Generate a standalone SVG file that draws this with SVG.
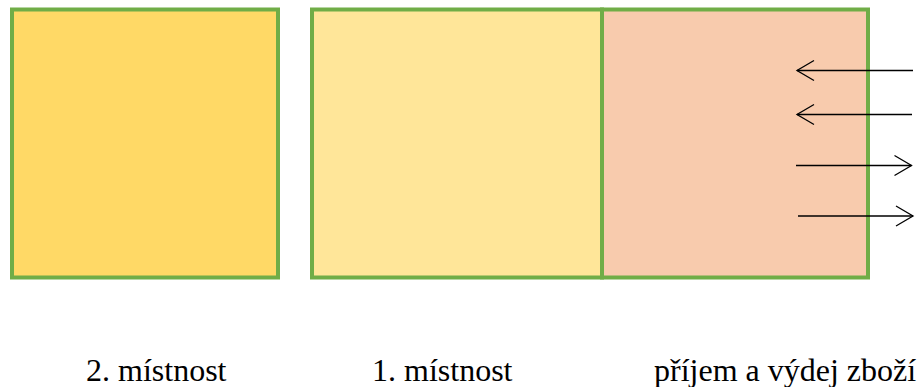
<svg xmlns="http://www.w3.org/2000/svg" width="918" height="387" viewBox="0 0 918 387">
<style>
.room{stroke:#70AD47;stroke-width:4}
.arr{stroke:#000;stroke-width:1.3;fill:none}
</style>
<defs>
<marker id="ah" markerUnits="userSpaceOnUse" markerWidth="24" markerHeight="24" viewBox="-20 -12 24 24" refX="0" refY="0" orient="auto" overflow="visible">
<path d="M-17,-10 L0,0 L-17,10" fill="none" stroke="#000" stroke-width="1.3"/>
</marker>
</defs>
<rect width="918" height="387" fill="#fff"/>
<g font-family="'Liberation Serif', Tinos, 'Times New Roman', 'DejaVu Serif', serif" font-size="32" fill="#000">
<g id="room2">
<rect class="room" x="12" y="9.5" width="266" height="268" fill="#FFD966"/>
<text x="86" y="381">2. místnost</text>
</g>
<g id="room1">
<rect class="room" x="312" y="9.5" width="290" height="268" fill="#FFE699"/>
<text x="372" y="381">1. místnost</text>
</g>
<g id="receiving">
<rect class="room" x="602" y="9.5" width="266" height="268" fill="#F8CBAD"/>
<text x="654" y="381">příjem a výdej zboží</text>
</g>
</g>
<g id="connectors">
<line class="arr" x1="913" y1="70.5" x2="797" y2="70.5" marker-end="url(#ah)"/>
<line class="arr" x1="912" y1="114.5" x2="797" y2="114.5" marker-end="url(#ah)"/>
<line class="arr" x1="796" y1="165.5" x2="911.5" y2="165.5" marker-end="url(#ah)"/>
<line class="arr" x1="798" y1="216" x2="913" y2="216" marker-end="url(#ah)"/>
</g>
</svg>
